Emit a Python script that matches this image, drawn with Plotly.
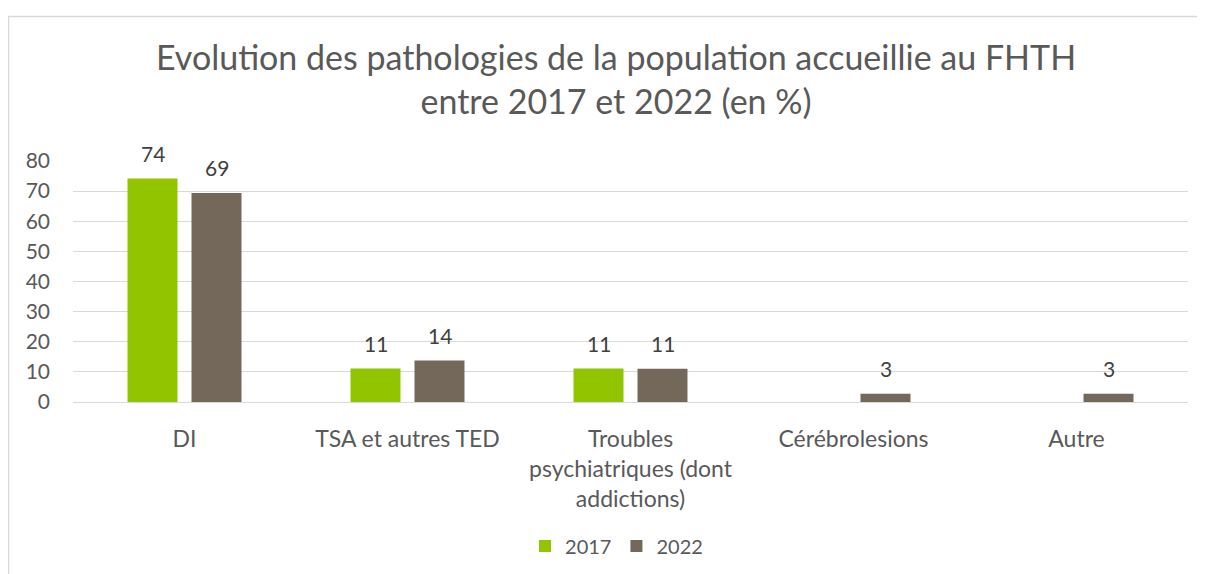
import plotly.graph_objects as go

categories = ["DI", "TSA et autres TED", "Troubles<br>psychiatriques (dont<br>addictions)", "Cérébrolesions", "Autre"]
series_names = ["2017", "2022"]
values_2017 = [74.2, 11.1, 11.1, None, None]
values_2022 = [69.4, 13.8, 11.0, 2.7, 2.7]
y_ticks = [0, 10, 20, 30, 40, 50, 60, 70, 80]

colors = ["#92C400", "#73685A"]
FONT = "Lato"
TXT = "#595959"

W, H = 1205, 574
ml, mr, mt, mb = 65, 25, 153, 180

fig = go.Figure()
for name, vals, col in zip(series_names, [values_2017, values_2022], colors):
    fig.add_trace(go.Bar(
        name=name, x=categories, y=vals,
        marker=dict(color=col, line=dict(width=0)),
        hoverinfo="x+y",
    ))

# data labels above bars
shifts = [-32, 32]
for vals, sh in zip([values_2017, values_2022], shifts):
    for c, v in zip(categories, vals):
        if v is None:
            continue
        fig.add_annotation(x=c, y=v, xref="x", yref="y", text=f"{v:.0f}",
                           showarrow=False, xshift=sh, yshift=25, yanchor="middle",
                           font=dict(family=FONT, size=21, color="#404040"))

# chart border
pw, ph = W - ml - mr, H - mt - mb
def px_x(p):
    return (p - ml) / pw
def px_y(p):
    return (H - mb - p) / ph
fig.add_shape(type="rect", xref="paper", yref="paper",
              x0=px_x(0.5), x1=px_x(W + 20), y0=px_y(8.5), y1=px_y(H + 20),
              line=dict(color="#D9D9D9", width=1.5), fillcolor="rgba(0,0,0,0)", layer="below")

fig.update_layout(
    width=W, height=H,
    margin=dict(l=ml, r=mr, t=mt, b=mb),
    paper_bgcolor="white", plot_bgcolor="white",
    barmode="group", bargap=0.426, bargroupgap=0.219,
    title=dict(text="Evolution des pathologies de la population accueillie au FHTH<br>entre 2017 et 2022 (en %)",
               x=0.5046, xanchor="center", xref="container",
               y=1 - 62 / H, yanchor="top", yref="container",
               font=dict(family=FONT, size=34, color=TXT)),
    font=dict(family=FONT, color=TXT),
    showlegend=True,
    legend=dict(orientation="h", x=0.505, xanchor="center", xref="container",
                y=1 - 538 / H, yanchor="middle", yref="container",
                font=dict(family=FONT, size=20, color=TXT), itemwidth=30,
                traceorder="normal"),
    xaxis=dict(showgrid=False, showline=False, ticks="", ticklabelstandoff=21,
               tickfont=dict(family=FONT, size=23, color=TXT)),
    yaxis=dict(range=[0, 80], tickvals=y_ticks, showgrid=True, gridcolor="#D9D9D9", gridwidth=1.3,
               zeroline=True, zerolinecolor="#D9D9D9", zerolinewidth=1.3,
               showline=False, ticks="", ticklabelstandoff=22,
               tickfont=dict(family=FONT, size=21, color=TXT)),
)

fig.write_html("out.html")
